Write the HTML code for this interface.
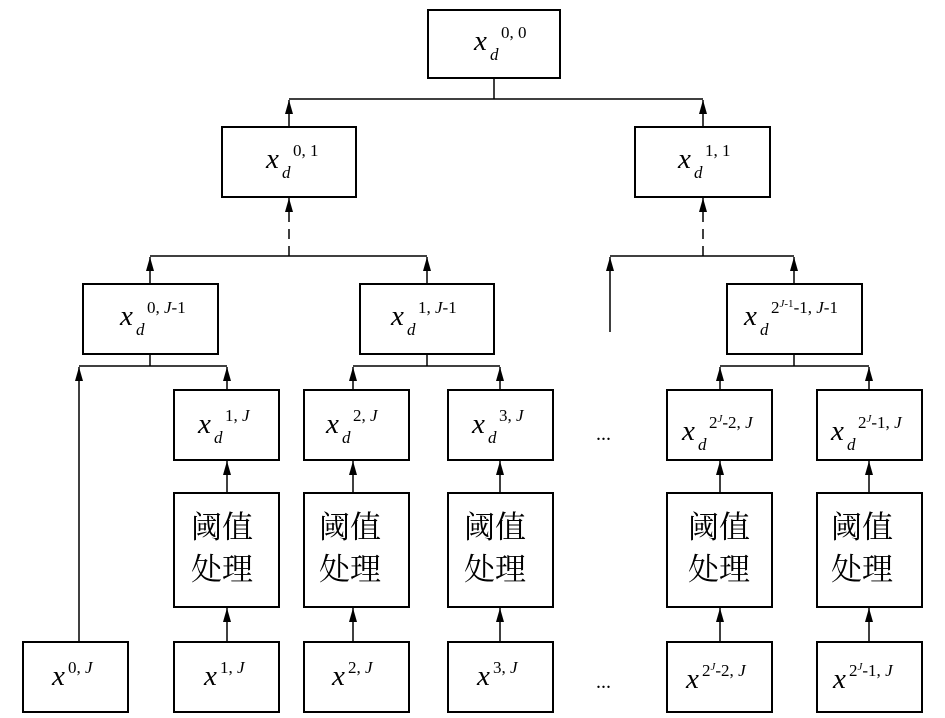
<!DOCTYPE html>
<html><head><meta charset="utf-8"><style>
html,body{margin:0;padding:0;background:#fff;}
svg{display:block;}
.t{font-family:"Liberation Serif",serif;font-style:italic;font-size:29px;}
.s{font-family:"Liberation Serif",serif;font-size:17px;}
.si{font-family:"Liberation Serif",serif;font-style:italic;font-size:17px;}
.c{font-family:"Liberation Serif","Noto Serif CJK SC","Noto Sans CJK SC",serif;font-size:31px;}
</style></head><body>
<svg width="945" height="718" viewBox="0 0 945 718" xmlns="http://www.w3.org/2000/svg">
<defs>
<marker id="a" markerWidth="8" markerHeight="14" refX="4" refY="0" orient="0" markerUnits="userSpaceOnUse">
<path d="M0,14 L4,0 L8,14 Z" fill="#000"/></marker>
</defs>
<g fill="none" stroke="#000" stroke-width="2">
<rect x="428" y="10" width="132" height="68"/>
<rect x="222" y="127" width="134" height="70"/>
<rect x="635" y="127" width="135" height="70"/>
<rect x="83" y="284" width="135" height="70"/>
<rect x="360" y="284" width="134" height="70"/>
<rect x="727" y="284" width="135" height="70"/>
<rect x="174" y="390" width="105" height="70"/>
<rect x="304" y="390" width="105" height="70"/>
<rect x="448" y="390" width="105" height="70"/>
<rect x="667" y="390" width="105" height="70"/>
<rect x="817" y="390" width="105" height="70"/>
<rect x="174" y="493" width="105" height="114"/>
<rect x="304" y="493" width="105" height="114"/>
<rect x="448" y="493" width="105" height="114"/>
<rect x="667" y="493" width="105" height="114"/>
<rect x="817" y="493" width="105" height="114"/>
<rect x="23" y="642" width="105" height="70"/>
<rect x="174" y="642" width="105" height="70"/>
<rect x="304" y="642" width="105" height="70"/>
<rect x="448" y="642" width="105" height="70"/>
<rect x="667" y="642" width="105" height="70"/>
<rect x="817" y="642" width="105" height="70"/>
</g>
<g stroke="#000" stroke-width="1.5" fill="none">
<line x1="494" y1="78" x2="494" y2="99"/>
<line x1="289" y1="99" x2="703" y2="99"/>
<line x1="289" y1="127" x2="289" y2="100" marker-end="url(#a)"/>
<line x1="703" y1="127" x2="703" y2="100" marker-end="url(#a)"/>
<line x1="289" y1="256" x2="289" y2="198" stroke-dasharray="10,7" marker-end="url(#a)"/>
<line x1="703" y1="256" x2="703" y2="198" stroke-dasharray="10,7" marker-end="url(#a)"/>
<line x1="150" y1="256" x2="427" y2="256"/>
<line x1="610" y1="256" x2="794" y2="256"/>
<line x1="150" y1="284" x2="150" y2="257" marker-end="url(#a)"/>
<line x1="427" y1="284" x2="427" y2="257" marker-end="url(#a)"/>
<line x1="794" y1="284" x2="794" y2="257" marker-end="url(#a)"/>
<line x1="610" y1="332" x2="610" y2="257" marker-end="url(#a)"/>
<line x1="150" y1="354" x2="150" y2="366"/>
<line x1="427" y1="354" x2="427" y2="366"/>
<line x1="794" y1="354" x2="794" y2="366"/>
<line x1="79" y1="366" x2="227" y2="366"/>
<line x1="353" y1="366" x2="500" y2="366"/>
<line x1="720" y1="366" x2="869" y2="366"/>
<line x1="79" y1="642" x2="79" y2="367" marker-end="url(#a)"/>
<line x1="227" y1="390" x2="227" y2="367" marker-end="url(#a)"/>
<line x1="353" y1="390" x2="353" y2="367" marker-end="url(#a)"/>
<line x1="500" y1="390" x2="500" y2="367" marker-end="url(#a)"/>
<line x1="720" y1="390" x2="720" y2="367" marker-end="url(#a)"/>
<line x1="869" y1="390" x2="869" y2="367" marker-end="url(#a)"/>
<line x1="227" y1="493" x2="227" y2="461" marker-end="url(#a)"/>
<line x1="353" y1="493" x2="353" y2="461" marker-end="url(#a)"/>
<line x1="500" y1="493" x2="500" y2="461" marker-end="url(#a)"/>
<line x1="720" y1="493" x2="720" y2="461" marker-end="url(#a)"/>
<line x1="869" y1="493" x2="869" y2="461" marker-end="url(#a)"/>
<line x1="227" y1="642" x2="227" y2="608" marker-end="url(#a)"/>
<line x1="353" y1="642" x2="353" y2="608" marker-end="url(#a)"/>
<line x1="500" y1="642" x2="500" y2="608" marker-end="url(#a)"/>
<line x1="720" y1="642" x2="720" y2="608" marker-end="url(#a)"/>
<line x1="869" y1="642" x2="869" y2="608" marker-end="url(#a)"/>
</g>
<g fill="#000">
<!-- xd labels: x at base, d subscript -->
<text class="t" x="474" y="50">x</text><text class="si" x="490" y="60">d</text><text class="s" x="501" y="38">0, 0</text>
<text class="t" x="266" y="168">x</text><text class="si" x="282" y="178">d</text><text class="s" x="293" y="156">0, 1</text>
<text class="t" x="678" y="168">x</text><text class="si" x="694" y="178">d</text><text class="s" x="705" y="156">1, 1</text>
<text class="t" x="120" y="325">x</text><text class="si" x="136" y="335">d</text><text class="s" x="147" y="313">0, <tspan font-style="italic">J</tspan>-1</text>
<text class="t" x="391" y="325">x</text><text class="si" x="407" y="335">d</text><text class="s" x="418" y="313">1, <tspan font-style="italic">J</tspan>-1</text>
<text class="t" x="744" y="325">x</text><text class="si" x="760" y="335">d</text><text class="s" x="771" y="313">2<tspan font-size="11" dy="-6"><tspan font-style="italic">J</tspan>-1</tspan><tspan dy="6">-1, </tspan><tspan font-style="italic">J</tspan>-1</text>
<text class="t" x="198" y="433">x</text><text class="si" x="214" y="443">d</text><text class="s" x="225" y="421">1, <tspan font-style="italic">J</tspan></text>
<text class="t" x="326" y="433">x</text><text class="si" x="342" y="443">d</text><text class="s" x="353" y="421">2, <tspan font-style="italic">J</tspan></text>
<text class="t" x="472" y="433">x</text><text class="si" x="488" y="443">d</text><text class="s" x="499" y="421">3, <tspan font-style="italic">J</tspan></text>
<text class="t" x="682" y="440">x</text><text class="si" x="698" y="450">d</text><text class="s" x="709" y="428">2<tspan font-size="11" dy="-6" font-style="italic">J</tspan><tspan dy="6">-2, </tspan><tspan font-style="italic">J</tspan></text>
<text class="t" x="831" y="440">x</text><text class="si" x="847" y="450">d</text><text class="s" x="858" y="428">2<tspan font-size="11" dy="-6" font-style="italic">J</tspan><tspan dy="6">-1, </tspan><tspan font-style="italic">J</tspan></text>
<text class="t" x="596" y="440" style="font-style:normal;font-size:20px">...</text>
<text class="t" x="596" y="688" style="font-style:normal;font-size:20px">...</text>
<!-- Chinese -->
<text class="c" x="191" y="538">阈值</text><text class="c" x="191" y="580">处理</text>
<text class="c" x="319" y="538">阈值</text><text class="c" x="319" y="580">处理</text>
<text class="c" x="464" y="538">阈值</text><text class="c" x="464" y="580">处理</text>
<text class="c" x="688" y="538">阈值</text><text class="c" x="688" y="580">处理</text>
<text class="c" x="831" y="538">阈值</text><text class="c" x="831" y="580">处理</text>
<!-- bottom -->
<text class="t" x="52" y="685">x</text><text class="s" x="68" y="673">0, <tspan font-style="italic">J</tspan></text>
<text class="t" x="204" y="685">x</text><text class="s" x="220" y="673">1, <tspan font-style="italic">J</tspan></text>
<text class="t" x="332" y="685">x</text><text class="s" x="348" y="673">2, <tspan font-style="italic">J</tspan></text>
<text class="t" x="477" y="685">x</text><text class="s" x="493" y="673">3, <tspan font-style="italic">J</tspan></text>
<text class="t" x="686" y="688">x</text><text class="s" x="702" y="676">2<tspan font-size="11" dy="-6" font-style="italic">J</tspan><tspan dy="6">-2, </tspan><tspan font-style="italic">J</tspan></text>
<text class="t" x="833" y="688">x</text><text class="s" x="849" y="676">2<tspan font-size="11" dy="-6" font-style="italic">J</tspan><tspan dy="6">-1, </tspan><tspan font-style="italic">J</tspan></text>
</g>
</svg>
</body></html>
